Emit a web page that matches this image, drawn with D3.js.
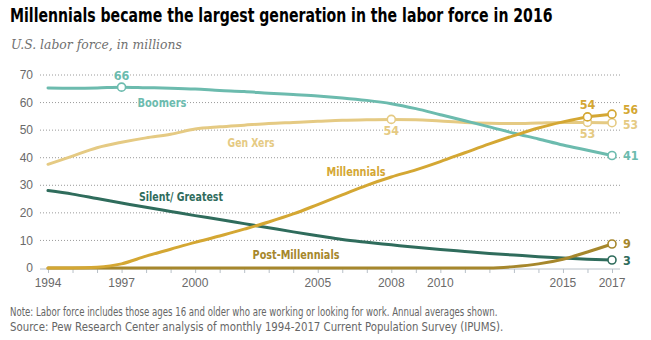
<!DOCTYPE html>
<html>
<head>
<meta charset="utf-8">
<script src="https://cdn.jsdelivr.net/npm/d3@7"></script>
<style>
  html, body { margin: 0; padding: 0; background: #fff; }
  svg { display: block; }
</style>
</head>
<body>
<svg id="chart" width="651" height="340"></svg>
<script>
// ---- Data (millions) ----
const years = [1994,1995,1996,1997,1998,1999,2000,2001,2002,2003,2004,2005,2006,2007,2008,2009,2010,2011,2012,2013,2014,2015,2016,2017];
const boomers = [65.3,65.2,65.3,65.6,65.4,65.2,64.9,64.4,64.0,63.4,62.9,62.4,61.7,60.8,59.6,57.8,55.6,53.4,51.2,48.9,46.8,44.6,42.7,40.8];
const genXers = [37.6,40.6,43.6,45.6,47.2,48.5,50.4,51.2,51.8,52.4,52.8,53.2,53.6,53.8,53.9,53.8,53.3,52.8,52.5,52.4,52.6,52.8,52.8,52.7];
const millennials = [0,0,0.3,1.5,4.3,6.8,9.3,11.6,14.1,16.7,19.6,23.0,26.5,30.0,33.0,35.6,38.6,41.8,45.0,48.0,50.8,53.0,54.8,55.8];
const silentGreatest = [28.1,26.8,25.2,23.6,22.0,20.5,19.0,17.6,16.1,14.6,13.1,11.7,10.3,9.3,8.4,7.5,6.7,6.0,5.3,4.7,4.1,3.6,3.2,2.9];
const postMillennials = [0,0,0,0,0,0,0,0,0,0,0,0,0,0,0,0,0,0,0,0.5,1.5,3.2,5.8,8.7];
const xTickLabels = [1994,1997,2000,2005,2008,2010,2015,2017];
const yTicks = [0,10,20,30,40,50,60,70];

const title = "Millennials became the largest generation in the labor force in 2016";
const subtitle = "U.S. labor force, in millions";
const note1 = "Note: Labor force includes those ages 16 and older who are working or looking for work. Annual averages shown.";
const note2 = "Source: Pew Research Center analysis of monthly 1994-2017 Current Population Survey (IPUMS).";

// ---- Styles ----
const C = {
  boomers: "#6cbbae",
  genx: "#e5ca83",
  mill: "#d4a733",
  silent: "#2f6c5c",
  post: "#a6872c",
  grid: "#9a9a9a",
  axisText: "#6a6a6a",
  note: "#666666"
};
const narrow = "'Liberation Sans Narrow', 'Arial Narrow', 'DejaVu Sans Condensed', sans-serif";

const svg = d3.select("#chart");
const x = d3.scaleLinear().domain([1994, 2017]).range([48, 612]);
const y = d3.scaleLinear().domain([0, 70]).range([268, 75]);

// place text at (px,py), horizontally squeezed to at most maxW
function fitText(g, px, py, maxW) {
  const t = g.append("text").attr("x", 0).attr("y", 0);
  return {t, done: () => {
    const w = t.node().getComputedTextLength();
    const s = (maxW && w > maxW) ? maxW / w : 1;
    t.attr("transform", `translate(${px},${py}) scale(${s},1)`);
    return t;
  }};
}

// Title
{
  const f = fitText(svg, 10, 22, 543);
  f.t.attr("font-family", narrow).attr("font-weight", "bold").attr("font-size", 19.5)
    .attr("fill", "#000").text(title);
  f.done();
}
// Subtitle
{
  const f = fitText(svg, 11, 49, 171);
  f.t.attr("font-family", "Georgia, 'DejaVu Serif', 'Liberation Serif', serif").attr("font-style", "italic")
    .attr("font-size", 13.5).attr("fill", "#707070").text(subtitle);
  f.done();
}

// Gridlines
svg.append("g").selectAll("line").data(yTicks.filter(d => d > 0)).join("line")
  .attr("x1", 40).attr("x2", 620)
  .attr("y1", d => y(d)).attr("y2", d => y(d))
  .attr("stroke", C.grid).attr("stroke-width", 1).attr("stroke-dasharray", "1,2");

// Y labels
svg.append("g").selectAll("text").data(yTicks).join("text")
  .attr("x", 33).attr("y", d => y(d)).attr("dy", "0.35em")
  .attr("text-anchor", "end").attr("font-family", "'Liberation Sans', Arial, sans-serif")
  .attr("font-size", 12).attr("fill", C.axisText).text(d => d);

// X axis
const xAxis = d3.axisBottom(x).tickValues(years).tickSize(4).tickFormat("");
const xg = svg.append("g").attr("transform", `translate(0,${y(0) + 1})`).call(xAxis);
xg.select(".domain").attr("d", "M40,0H620").attr("stroke", "#b8c0c8");
xg.selectAll(".tick line").attr("stroke", "#b8c0c8");
svg.append("g").selectAll("text").data(xTickLabels).join("text")
  .attr("x", d => x(d)).attr("y", 287).attr("text-anchor", "middle")
  .attr("font-family", "'Liberation Sans', Arial, sans-serif").attr("font-size", 12)
  .attr("fill", C.axisText).text(d => d);

// Lines
const series = [
  {key: "genx", vals: genXers, color: C.genx},
  {key: "boomers", vals: boomers, color: C.boomers},
  {key: "silent", vals: silentGreatest, color: C.silent},
  {key: "post", vals: postMillennials, color: C.post},
  {key: "mill", vals: millennials, color: C.mill}
];
const line = d3.line().x((d, i) => x(years[i])).y(d => y(d)).curve(d3.curveMonotoneX);
svg.append("g").selectAll("path").data(series).join("path")
  .attr("d", s => line(s.vals)).attr("fill", "none")
  .attr("stroke", s => s.color).attr("stroke-width", 3).attr("stroke-linecap", "round");

// Marker circles
const markers = [
  {vals: boomers, year: 1997, color: C.boomers},
  {vals: genXers, year: 2008, color: C.genx},
  {vals: genXers, year: 2016, color: C.genx},
  {vals: genXers, year: 2017, color: C.genx},
  {vals: boomers, year: 2017, color: C.boomers},
  {vals: silentGreatest, year: 2017, color: C.silent},
  {vals: postMillennials, year: 2017, color: C.post},
  {vals: millennials, year: 2016, color: C.mill},
  {vals: millennials, year: 2017, color: C.mill}
];
svg.append("g").selectAll("circle").data(markers).join("circle")
  .attr("cx", d => x(d.year)).attr("cy", d => y(d.vals[years.indexOf(d.year)]))
  .attr("r", 4).attr("fill", "#fff").attr("stroke", d => d.color).attr("stroke-width", 1.6);

// Labels
const labG = svg.append("g");
function lab(t, xx, yy, color, anchor, size, maxW) {
  const f = fitText(labG, xx, yy, maxW);
  f.t.attr("text-anchor", anchor || "middle")
    .attr("font-family", narrow).attr("font-weight", "bold").attr("font-size", size || 13)
    .attr("fill", color).attr("stroke", "#fff").attr("stroke-width", 3)
    .attr("paint-order", "stroke").attr("stroke-linejoin", "round")
    .text(t);
  f.done();
}
const vAt = (arr, yr) => arr[years.indexOf(yr)];
lab("66", x(1997), y(vAt(boomers, 1997)) - 7, C.boomers, "middle", 12.5);
lab("Boomers", 162, y(60) + 4.5, C.boomers, "middle", 13, 49);
lab("Gen Xers", 251, 146.5, C.genx, "middle", 13, 47);
lab("Millennials", 356, 175.5, C.mill, "middle", 13, 59);
lab("Silent/ Greatest", 181, 200.5, C.silent, "middle", 13, 84);
lab("Post-Millennials", 296, 258.5, C.post, "middle", 13, 87);
lab("54", x(2008), y(vAt(genXers, 2008)) + 16, C.genx, "middle", 12.5);
lab("54", x(2016), y(vAt(millennials, 2016)) - 8, C.mill, "middle", 12.5);
lab("53", x(2016), y(vAt(genXers, 2016)) + 16, C.genx, "middle", 12.5);
lab("56", 623, 114, C.mill, "start", 12);
lab("53", 623, 129, C.genx, "start", 12);
lab("41", 623, 160, C.boomers, "start", 12.5);
lab("9", 623, 247.5, C.post, "start", 12.5);
lab("3", 623, 265, C.silent, "start", 12.5);

// Notes
{
  const f = fitText(svg, 10, 316, 488);
  f.t.attr("font-family", narrow).attr("font-size", 12.5).attr("fill", C.note).text(note1);
  f.done();
  const g = fitText(svg, 10, 331, 494);
  g.t.attr("font-family", narrow).attr("font-size", 12.5).attr("fill", C.note).text(note2);
  g.done();
}
</script>
</body>
</html>
